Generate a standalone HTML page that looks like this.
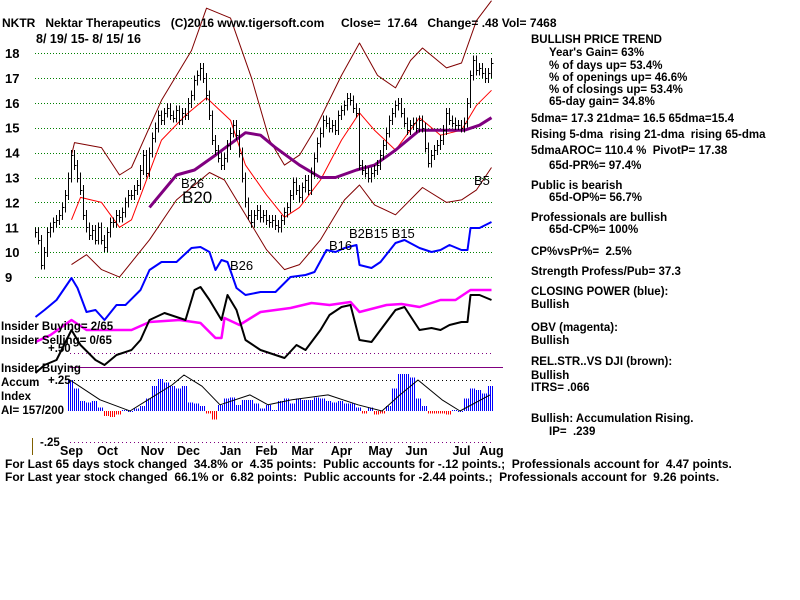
<!DOCTYPE html>
<html><head><meta charset="utf-8">
<style>
body{margin:0;background:#fff;}
svg{display:block;font-family:"Liberation Sans",sans-serif;font-weight:bold;}
svg text{white-space:pre;}
</style></head>
<body>
<svg id="chart" width="800" height="600" viewBox="0 0 800 600" xmlns="http://www.w3.org/2000/svg">
<defs>
<pattern id="stripeBlue" width="2" height="4" patternUnits="userSpaceOnUse"><rect width="1" height="4" fill="#0000ff"/></pattern>
<pattern id="stripeRed" width="2" height="4" patternUnits="userSpaceOnUse"><rect width="1" height="4" fill="#ff0000"/></pattern>
</defs>
<rect width="800" height="600" fill="#fff"/>
<g id="grid" shape-rendering="crispEdges"></g>
<g id="plot"></g>
<g font-size="12" fill="#000">
<text x="2" y="27">NKTR   Nektar Therapeutics   (C)2016 www.tigersoft.com     Close=  17.64   Change= .48 Vol= 7468</text>
<text x="36" y="43" font-size="12.5">8/ 19/ 15- 8/ 15/ 16</text>
</g>
<g id="ylabels" font-size="13"></g>
<g id="months" font-size="12.5" text-anchor="middle"></g>
<g font-size="11.5" fill="#000">
<text x="1" y="330">Insider Buying= 2/65</text>
<text x="1" y="344">Insider Selling= 0/65</text>
<text x="48" y="352">+.50</text>
<text x="1" y="372">Insider Buying</text>
<text x="1" y="386">Accum</text>
<text x="48" y="384">+.25</text>
<text x="1" y="400">Index</text>
<text x="1" y="414">AI= 157/200</text>
<text x="40" y="446">-.25</text>
</g>
<line x1="32.5" y1="438" x2="32.5" y2="455" stroke="#806000" stroke-width="1"/>
<g font-size="12" fill="#000">
<text x="5" y="468">For Last 65 days stock changed  34.8% or  4.35 points:  Public accounts for -.12 points.;  Professionals account for  4.47 points.</text>
<text x="5" y="481">For Last year stock changed  66.1% or  6.82 points:  Public accounts for -2.44 points.;  Professionals account for  9.26 points.</text>
</g>
<g font-size="11.5" fill="#000">
<text x="531" y="43">BULLISH PRICE TREND</text>
<text x="549" y="56">Year's Gain= 63%</text>
<text x="549" y="69">% of days up= 53.4%</text>
<text x="549" y="81">% of openings up= 46.6%</text>
<text x="549" y="93">% of closings up= 53.4%</text>
<text x="549" y="105">65-day gain= 34.8%</text>
<text x="531" y="122">5dma= 17.3 21dma= 16.5 65dma=15.4</text>
<text x="531" y="138">Rising 5-dma  rising 21-dma  rising 65-dma</text>
<text x="531" y="154">5dmaAROC= 110.4 %  PivotP= 17.38</text>
<text x="549" y="169">65d-PR%= 97.4%</text>
<text x="531" y="189">Public is bearish</text>
<text x="549" y="201">65d-OP%= 56.7%</text>
<text x="531" y="221">Professionals are bullish</text>
<text x="549" y="233">65d-CP%= 100%</text>
<text x="531" y="255">CP%vsPr%=  2.5%</text>
<text x="531" y="275">Strength Profess/Pub= 37.3</text>
<text x="531" y="295">CLOSING POWER (blue):</text>
<text x="531" y="308">Bullish</text>
<text x="531" y="331">OBV (magenta):</text>
<text x="531" y="344">Bullish</text>
<text x="531" y="365">REL.STR..VS DJI (brown):</text>
<text x="531" y="379">Bullish</text>
<text x="531" y="391">ITRS= .066</text>
<text x="531" y="422">Bullish: Accumulation Rising.</text>
<text x="549" y="435">IP=  .239</text>
</g>
</svg>
<script>
const priceTicks=[18,17,16,15,14,13,12,11,10,9];
const months=["Sep","Oct","Nov","Dec","Jan","Feb","Mar","Apr","May","Jun","Jul","Aug"];
const monthIdx=[12,24,39,51,65,77,89,102,115,127,142,152];
const closes=[10.8,10.5,9.5,10,10.8,11,11.2,11.3,11.5,11.8,12.3,13,13.9,13.5,13,12.5,11.5,11,10.7,10.9,10.5,11,10.5,10.2,10.8,11.2,11.2,11.5,11.4,11.6,12,12.3,12.3,12.5,12.7,13.3,13.9,13.2,14,14.6,15,15.5,15.3,15.6,15.8,15.5,15.4,15.7,15.3,15.6,15.5,16,16.3,16.9,17.1,17.4,17,16.3,15.5,14.5,14.1,13.8,13.5,13.8,14.3,14.8,15.1,14.7,14,13,12,11.5,11.2,11.5,11.7,11.4,11.5,11.3,11.2,11.3,11.1,11,11.3,11.6,11.8,12.3,12.8,12.5,12.2,12.6,12.9,12.5,13.2,13.8,14.4,14.8,15.3,15.2,15,15.1,14.9,15.5,15.7,15.9,16.2,16.1,15.8,15.6,13.5,13.3,13.2,13,13.2,13.3,13.5,13.9,14.3,14.8,15.3,15.6,15.9,16,15.6,15.2,14.9,15.1,15.2,15,15.3,15,14.2,13.6,13.9,14.1,14.3,14.5,14.9,15.6,15.3,15.2,15.1,15.1,15,15.2,16,17.1,17.7,17.3,17.4,17.2,17,17.2,17.6];
const upperBandIdx=[12,13,22,28,32,42,52,57,65,72,78,83,88,93,102,108,114,120,125,129,137,142,147,152];
const upperBand=[13.9,14.4,14.2,13.1,13.4,16.1,18.1,19.8,19.4,17,14.5,13.5,13.9,14.9,17.1,18.4,17.1,16.6,17.7,18.2,17.4,17.6,19.3,20.1];
const lowerBandIdx=[12,17,22,28,38,47,58,63,70,77,83,88,95,103,108,113,120,129,137,142,147,152];
const lowerBand=[9.5,9.9,9.3,9,10.5,12.1,13.2,12.9,11.5,10.1,9.3,9.5,10.5,12.1,12.7,11.9,11.5,12.6,12,12.1,12.5,13.4];
const ma21Idx=[12,15,22,28,32,42,50,57,65,70,77,83,88,95,102,108,113,120,128,135,142,147,152];
const ma21=[11.3,12.2,12,11,11.3,14.5,15.5,16.2,15.3,13.5,12.3,11.4,11.8,12.9,14.5,15.6,14.9,14.1,15.4,14.7,14.9,15.9,16.5];
const ma65Idx=[38,47,53,60,70,75,80,88,95,100,107,113,120,128,135,143,148,152];
const ma65=[11.8,13.1,13.3,13.9,14.8,14.7,14.2,13.5,13,13,13.3,13.5,14.1,14.9,14.9,14.9,15.1,15.4];
const cpIdx=[0,3,7,12,14,17,20,23,27,30,35,38,42,47,52,55,58,60,62,64,67,70,75,80,85,90,93,97,100,103,107,108,112,115,120,123,128,132,135,138,142,144,145,148,152];
const closingPower=[317,310,300,278,288,312,310,320,305,305,290,270,262,262,248,247,252,270,260,262,288,295,292,292,277,275,272,250,252,248,245,265,268,262,243,240,248,252,250,245,250,250,228,228,222];
const obvIdx=[0,5,12,17,23,32,38,48,55,60,62,63,68,75,85,92,98,105,108,117,122,128,135,140,145,152];
const obv=[342,335,320,330,330,330,322,320,323,338,338,318,325,312,308,303,305,302,312,305,304,307,300,300,290,290];
const rsIdx=[0,3,7,12,15,20,23,27,32,35,38,43,50,53,55,58,62,64,67,70,75,80,83,87,90,95,98,102,105,108,112,115,120,123,128,132,135,138,142,144,145,148,152];
const relStrength=[373,365,360,330,345,360,365,355,350,340,320,313,320,290,287,300,320,295,310,340,350,355,358,345,350,330,315,307,305,340,342,330,310,307,330,328,330,325,322,322,295,295,300];
const accum=[.25,.18,.08,.07,.08,.03,-.04,-.05,-.03,.01,0,.02,.04,.1,.2,.26,.23,.2,.18,.2,.07,.06,.04,-.02,-.07,.05,.1,.11,.05,.09,.09,.06,.02,.05,.01,.08,.1,.06,.1,.09,.09,.11,.1,.08,.07,.08,.06,.06,.03,-.02,.03,-.03,-.02,.04,.18,.3,.3,.27,.1,.04,-.02,-.02,-.02,-.03,.01,0,.1,.18,.17,.14,.2];
const aiMaIdx=[0,5,10,13,17,19,22,25,30,33,37,43,48,52,55,58,62,65,70];
const aiMa=[.25,.09,0,.09,.21,.29,.2,.05,.13,.05,.09,.13,.05,0,.13,.25,.09,0,.13];

const NS="http://www.w3.org/2000/svg";
const plot=document.getElementById('plot');
const grid=document.getElementById('grid');
const X0=35,DX=3;
function xAt(i){return X0+i*DX+0.5;}
function yP(v){return 53+(18-v)*24.9;}
function ySig(v){return 411-v*124;}
function xAi(i){return 70+i*6;}
function mk(tag,attrs,parent){const e=document.createElementNS(NS,tag);for(const k in attrs)e.setAttribute(k,attrs[k]);(parent||plot).appendChild(e);return e;}
function poly(idx,vals,xf,yf,style,name){
  const pts=idx.map((d,k)=>xf(d).toFixed(1)+","+yf(vals[k]).toFixed(1)).join(" ");
  const p=mk('polyline',Object.assign({points:pts,fill:'none','stroke-linejoin':'round'},style));
  
  
  return p;
}
const ident=v=>v;

priceTicks.forEach(t=>{
  const y=Math.round(yP(t))+0.5;
  const l=mk('line',{x1:35,x2:492,y1:y,y2:y,stroke:'#008000','stroke-dasharray':'1,2'},grid);
  
  
  const tx=mk('text',{x:5,y:yP(t)+5},document.getElementById('ylabels'));
  tx.textContent=t;
  
  
});
[[353.5,'#800080'],[380.5,'#000'],[442.5,'#800080']].forEach(r=>{
  const l=mk('line',{x1:70,x2:492,y1:r[0],y2:r[0],stroke:r[1],'stroke-dasharray':'1,3'},grid);
  
  
});
const sep=mk('line',{x1:70,x2:503,y1:367.5,y2:367.5,stroke:'#800080'},grid);



months.forEach((m,k)=>{
  const t=mk('text',{x:xAt(monthIdx[k]),y:455},document.getElementById('months'));
  t.textContent=m;
  
  
});

poly(upperBandIdx,upperBand,xAt,yP,{stroke:'#800000','stroke-width':1},'upper-band');
poly(lowerBandIdx,lowerBand,xAt,yP,{stroke:'#800000','stroke-width':1},'lower-band');
poly(ma21Idx,ma21,xAt,yP,{stroke:'#ff0000','stroke-width':1},'ma21-line');
poly(ma65Idx,ma65,xAt,yP,{stroke:'#800080','stroke-width':3},'ma65-line');

const bars=mk('g',{'shape-rendering':'crispEdges'});
closes.forEach((c,i)=>{
  const prev=i?closes[i-1]:c;
  const hi=Math.max(prev,c)+0.2,lo=Math.min(prev,c)-0.2;
  const b=mk('line',{x1:xAt(i),x2:xAt(i),y1:yP(hi),y2:yP(lo),stroke:'#000','stroke-width':1},bars);
  
  
  const t=mk('line',{x1:xAt(i),x2:xAt(i)+2,y1:Math.round(yP(c))+0.5,y2:Math.round(yP(c))+0.5,stroke:'#000','stroke-width':1},bars);
  
  
});

poly(cpIdx,closingPower,xAt,ident,{stroke:'#0000ff','stroke-width':2},'closing-power-line');
poly(obvIdx,obv,xAt,ident,{stroke:'#ff00ff','stroke-width':2.5},'obv-line');
poly(rsIdx,relStrength,xAt,ident,{stroke:'#000','stroke-width':2},'rel-strength-line');

const hist=mk('g',{'shape-rendering':'crispEdges'});
accum.forEach((v,i)=>{
  const y1=ySig(0),y2=ySig(v);
  const b=mk('rect',{x:xAi(i)-3,y:Math.min(y1,y2),width:6,height:Math.abs(y2-y1)||1,fill:v>=0?'url(#stripeBlue)':'url(#stripeRed)'},hist);
  
  
});
poly(aiMaIdx,aiMa,xAi,ySig,{stroke:'#000','stroke-width':1},'accum-ma-line');

function label(txt,x,y,size,color,name){
  const t=mk('text',{x:x,y:y,'font-size':size,fill:color||'#000','font-weight':'normal'});
  t.textContent=txt;
  
  
}
label('B26',181,188,13,'#000','signal-b26');
label('B20',182,203,17,'#000','signal-b20');
label('B26',230,270,13,'#000','signal-b26-cp');
label('B16',329,250,13,'#000','signal-b16');
label('B2B15 B15',349,238,13,'#000','signal-b2b15');
label('B5',474,185,13,'#000','signal-b5');
</script>
</body></html>
